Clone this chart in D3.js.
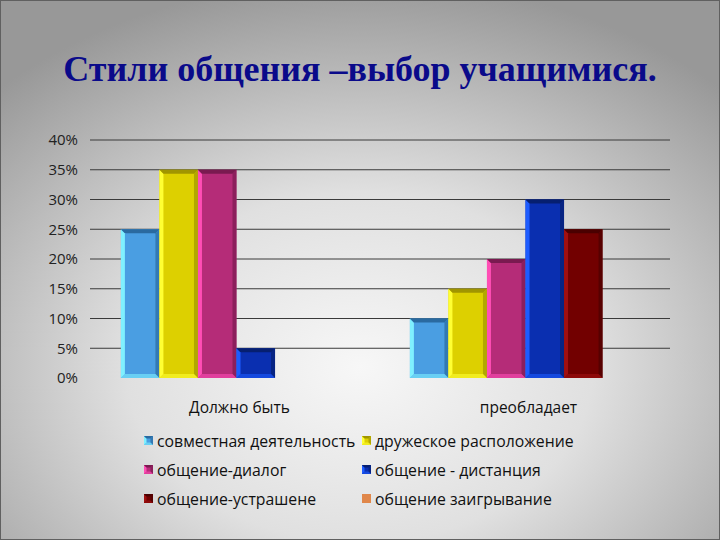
<!DOCTYPE html>
<html><head><meta charset="utf-8">
<script src="https://cdn.jsdelivr.net/npm/d3@7"></script>
<style>html,body{margin:0;padding:0;background:#fff}</style>
</head><body>
<script>
const categories = ["Должно быть", "преобладает"];
const seriesNames = ["совместная деятельность", "дружеское расположение", "общение-диалог", "общение - дистанция", "общение-устрашене", "общение заигрывание"];
const values = [
  [25, 10],
  [35, 15],
  [35, 20],
  [5, 30],
  [0, 25],
  [0, 0]
];
const yTicks = [0, 5, 10, 15, 20, 25, 30, 35, 40];
const title = "Стили общения –выбор учащимися.";

const fills = ["#4a9ee2", "#ddd000", "#b52c78", "#0a2fb0", "#720000", "#e0874a"];
const lights = ["#7ff0ff", "#ffff33", "#ff4db5", "#1d5cff", "#a01010", "#f0a070"];
const darks = ["#2a6aa0", "#a09500", "#7a1a50", "#061f70", "#4a0000", "#a05a30"];

const W = 720, H = 540;
const svg = d3.select("body").append("svg").attr("width", W).attr("height", H);
const defs = svg.append("defs");
const rg = defs.append("radialGradient").attr("id", "bg").attr("cx", "50%").attr("cy", "68%").attr("r", "72%");
rg.append("stop").attr("offset", "0%").attr("stop-color", "#f7f7f7");
rg.append("stop").attr("offset", "45%").attr("stop-color", "#e0e0e0");
rg.append("stop").attr("offset", "100%").attr("stop-color", "#989898");
svg.append("rect").attr("width", W).attr("height", H).attr("fill", "url(#bg)");
svg.append("rect").attr("x", 0.5).attr("y", 0.5).attr("width", W - 1).attr("height", H - 1)
  .attr("fill", "none").attr("stroke", "#606060").attr("stroke-width", 1);

svg.append("text").attr("x", 360).attr("y", 81).attr("text-anchor", "middle")
  .attr("font-family", "Liberation Serif, Times New Roman, serif").attr("font-weight", "bold")
  .attr("font-size", 36).attr("fill", "#0a0a8a").text(title);

const pL = 92, pR = 670, pT = 140, pB = 378;
const x0 = d3.scaleBand().domain(categories).range([pL, pR]).paddingInner(0.2).paddingOuter(0.1);
const x1 = d3.scaleBand().domain(d3.range(seriesNames.length)).range([0, x0.bandwidth()]);
const y = d3.scaleLinear().domain([0, 40]).range([pB, pT]);

const g = svg.append("g");
g.selectAll("line.grid").data(yTicks.filter(t => t > 0)).join("line")
  .attr("x1", pL - 2).attr("x2", pR).attr("y1", d => y(d)).attr("y2", d => y(d))
  .attr("stroke", "#3a3a3a").attr("stroke-width", 1);

const yAxis = d3.axisLeft(y).tickValues(yTicks).tickFormat(d => d + "%").tickSize(0).tickPadding(14);
const ya = svg.append("g").attr("transform", `translate(${pL},0)`).call(yAxis);
ya.select(".domain").remove();
ya.selectAll("text").attr("font-family", "Open Sans, sans-serif").attr("font-size", 15).attr("fill", "#222");

svg.selectAll("text.cat").data(categories).join("text").attr("class", "cat")
  .attr("x", d => x0(d) + x0.bandwidth() / 2 + 3).attr("y", 413).attr("text-anchor", "middle")
  .attr("font-family", "Open Sans, sans-serif").attr("font-size", 15.5).attr("fill", "#111").text(d => d);

function bevelBar(sel, bx, by, bw, bh, i, b) {
  sel.append("rect").attr("x", bx).attr("y", by).attr("width", bw).attr("height", bh).attr("fill", fills[i]);
  const x2 = bx + bw, y2 = by + bh;
  const poly = (pts, c, op) => sel.append("polygon").attr("points", pts.map(p => p.join(",")).join(" ")).attr("fill", c).attr("opacity", op || 1);
  poly([[bx, by], [bx + b, by + b], [bx + b, y2 - b], [bx, y2]], lights[i]);
  poly([[bx, by], [x2, by], [x2 - b, by + b], [bx + b, by + b]], darks[i]);
  poly([[x2, by], [x2, y2], [x2 - b, y2 - b], [x2 - b, by + b]], darks[i], 0.7);
  poly([[bx, y2], [bx + b, y2 - b], [x2 - b, y2 - b], [x2, y2]], lights[i], 0.6);
}

categories.forEach((c, ci) => {
  seriesNames.forEach((s, si) => {
    const v = values[si][ci];
    if (v <= 0) return;
    const bx = x0(c) + x1(si), bw = x1.bandwidth();
    const gb = svg.append("g");
    bevelBar(gb, bx, y(v), bw, y(0) - y(v), si, 4);
  });
});

const legX = [144, 362], legY = [441, 470, 499];
seriesNames.forEach((s, i) => {
  const lx = legX[i % 2], ly = legY[Math.floor(i / 2)];
  const lg = svg.append("g");
  if (i < 5) bevelBar(lg, lx, ly - 5, 9, 9, i, 2.5);
  else lg.append("rect").attr("x", lx).attr("y", ly - 5).attr("width", 9).attr("height", 9).attr("fill", fills[i]);
  lg.append("text").attr("x", lx + 13).attr("y", ly + 5.5).attr("font-family", "Open Sans, sans-serif")
    .attr("font-size", 15.8).attr("fill", "#111").text(s);
});
</script>
</body></html>
